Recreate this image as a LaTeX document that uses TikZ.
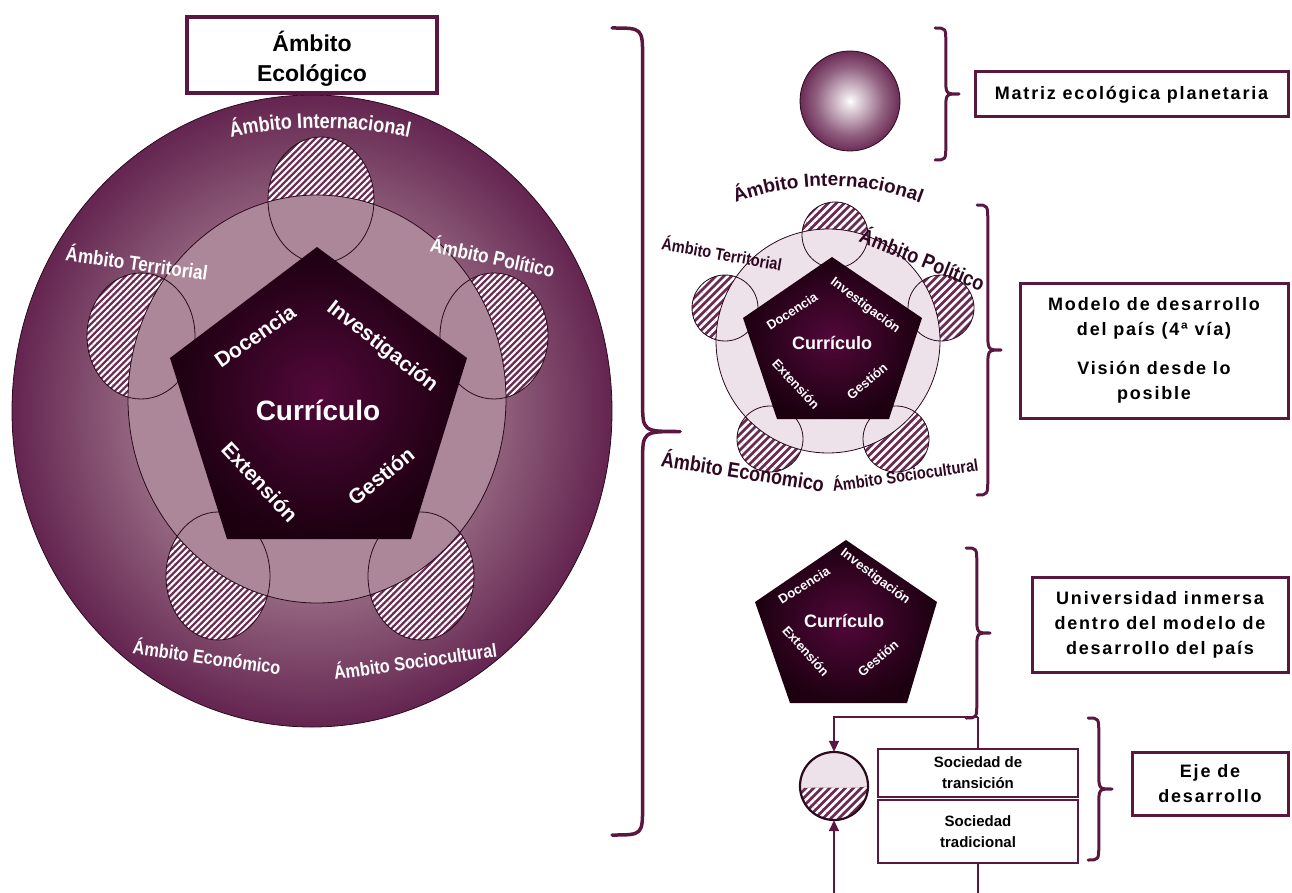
\documentclass[tikz,border=0pt]{standalone}
\usepackage{fontspec}
\setmainfont{Liberation Sans}
\newfontfamily\narrowsans[FakeStretch=0.86]{Liberation Sans}
\newfontfamily\trackedsans[LetterSpace=10]{Liberation Sans}
\usetikzlibrary{patterns.meta,decorations.text,arrows.meta}

\definecolor{wine}{HTML}{5A1840}
\definecolor{ringedge}{HTML}{642550}
\definecolor{ringmid}{HTML}{93657F}
\definecolor{ringcentre}{HTML}{A98099}
\definecolor{innerdisc}{HTML}{AC8699}
\definecolor{coreinner}{HTML}{52083A}
\definecolor{coreouter}{HTML}{1C0010}
\definecolor{hatchbase}{HTML}{6A2A52}
\definecolor{paledisc}{HTML}{EEE2EA}
\definecolor{labeldark}{HTML}{300822}
\definecolor{edgeline}{HTML}{2A0A1C}
\definecolor{globeedge}{HTML}{6C2C56}

% ring of the ecological sphere: light towards the middle, dark at the rim
\pgfdeclareradialshading{ringshade}{\pgfpoint{0bp}{0bp}}{%
  color(0bp)=(ringcentre); color(15bp)=(ringmid); color(25bp)=(ringedge); color(50bp)=(ringedge)}
% planetary globe
\pgfdeclareradialshading{globeshade}{\pgfpoint{0bp}{0bp}}{%
  color(0bp)=(white); color(3bp)=(white!85!globeedge); color(17bp)=(globeedge!75!white); color(25bp)=(globeedge); color(50bp)=(globeedge)}

% curly brace opening to the left, tip pointing right
% [#1 line width] #2 x of hook ends, #3 y top, #4 y bottom, #5 width, #6 hook length
\newcommand{\bracepath}[6][3pt]{%
  \draw[bracestroke, line width=#1] (#2,#3)
    .. controls ({#2+0.45*#5},#3) .. ({#2+0.45*#5},{#3-#6})
    -- ({#2+0.45*#5},{(#3+#4)/2+#6})
    .. controls ({#2+0.45*#5},{(#3+#4)/2}) .. ({#2+#5},{(#3+#4)/2})
    .. controls ({#2+0.45*#5},{(#3+#4)/2}) .. ({#2+0.45*#5},{(#3+#4)/2-#6})
    -- ({#2+0.45*#5},{#4+#6})
    .. controls ({#2+0.45*#5},#4) .. (#2,#4);}

\tikzset{
  bracestroke/.style={draw=wine, line cap=round, line join=round},
  hatched/.style={fill=hatchbase, postaction={pattern={Lines[angle=45,distance=4.6pt,line width=2.1pt]}, pattern color=white}},
  hatchedwide/.style={fill=hatchbase, postaction={pattern={Lines[angle=45,distance=5.6pt,line width=2.6pt]}, pattern color=white}},
  thinedge/.style={draw=edgeline, line width=0.8pt},
  corelabel/.style={text=white, inner sep=0, font=\bfseries\fontsize{21}{21}\selectfont},
  corelabelbig/.style={text=white, inner sep=0, font=\bfseries\fontsize{28}{28}\selectfont},
  smalllabel/.style={text=white, inner sep=0, font=\bfseries\fontsize{13}{13}\selectfont},
  smalllabelbig/.style={text=white, inner sep=0, font=\bfseries\fontsize{18}{18}\selectfont},
  ringlabel/.style={text=white, inner sep=0, font=\narrowsans\bfseries\fontsize{#1}{#1}\selectfont},
  darklabel/.style={text=labeldark, inner sep=0, font=\narrowsans\bfseries\fontsize{#1}{#1}\selectfont},
  titlebox/.style={draw=wine, line width=3.5pt, fill=white, inner sep=0},
  titletext/.style={align=center, inner sep=0, font=\bfseries\fontsize{23}{30}\selectfont},
  rbox/.style={draw=wine, line width=3pt, fill=white, align=center, inner sep=0,
    font=\trackedsans\bfseries\fontsize{18}{25}\selectfont},
  socbox/.style={draw=wine, line width=1.2pt, fill=white, align=center, inner sep=0,
    font=\bfseries\fontsize{15}{21}\selectfont},
  link/.style={draw=wine, line width=1.6pt},
  linkarrow/.style={link, -{Triangle[length=11pt,width=10pt]}},
}

\begin{document}
\begin{tikzpicture}[x=1pt,y=1pt]
\useasboundingbox (0,0) rectangle (1292,-893);

% ---------- large scheme: ecological sphere ----------
\shade[shading=ringshade] (312,-411) ellipse [x radius=300, y radius=316];
\draw[thinedge] (312,-411) ellipse [x radius=300, y radius=316];

% hatched fields of the five spheres
\foreach \cx/\cy/\rx/\ry in {321/-200/53/63, 141/-336/54/63, 494/-336/54/63, 218/-576/52/64, 421/-576/53/64}
  \fill[hatched] (\cx,\cy) ellipse [x radius=\rx, y radius=\ry];

% national sphere
\fill[innerdisc] (317,-399) ellipse [x radius=189, y radius=204];
\draw[thinedge] (317,-399) ellipse [x radius=189, y radius=204];
\foreach \cx/\cy/\rx/\ry in {321/-200/53/63, 141/-336/54/63, 494/-336/54/63, 218/-576/52/64, 421/-576/53/64}
  \draw[thinedge] (\cx,\cy) ellipse [x radius=\rx, y radius=\ry];

% university core
\shade[inner color=coreinner, outer color=coreouter] (317,-247) -- (467,-358) -- (411,-539) -- (227,-539) -- (170,-358) -- cycle;
\node[corelabel, rotate=35] (docA) at (255,-336) {Docencia};
\node[corelabel, rotate=-38] (invA) at (382,-347) {Investigación};
\node[corelabelbig] (curA) at (318,-410) {Currículo};
\node[corelabel, rotate=-47] (extA) at (260,-482) {Extensión};
\node[corelabel, rotate=39] (gesA) at (381,-476) {Gestión};

% sphere names
\path[decorate, decoration={text along path, text align=center, text color=white,
  text={|\narrowsans\bfseries\fontsize{21}{21}\selectfont|Ámbito Internacional}}]
  (110,-184.3) arc[start angle=120, end angle=60, radius=420];
\node[ringlabel=20, rotate=-8] (terA) at (137,-262) {Ámbito Territorial};
\node[ringlabel=20, rotate=-12] (polA) at (493,-256) {Ámbito Político};
\node[ringlabel=19, rotate=-8] (ecoA) at (207,-656) {Ámbito Económico};
\node[ringlabel=19, rotate=8] (socA) at (415,-660) {Ámbito Sociocultural};

\node[titlebox, minimum width=250, minimum height=76] (ecol) at (312,-55) {};
\node[titletext] (ecoltext) at (312,-59) {Ámbito\\Ecológico};

% ---------- right column ----------
\bracepath[3.5pt]{612}{-28}{-835}{68}{30}

% planetary matrix
\shade[shading=globeshade] (850,-101) circle (50);
\draw[thinedge] (850,-101) circle (50);
\bracepath{935}{-28}{-160}{24}{15}
\node[rbox, minimum width=313, minimum height=45] (matriz) at (1131.5,-94.5) {Matriz ecológica planetaria};

% country model
\foreach \cx/\cy in {835/-235, 725/-308, 941/-308, 770/-439, 896/-439}
  \fill[hatchedwide] (\cx,\cy) circle (33);
\fill[paledisc] (828,-341) circle (112);
\draw[thinedge] (828,-341) circle (112);
\foreach \cx/\cy in {835/-235, 725/-308, 941/-308, 770/-439, 896/-439}
  \draw[thinedge] (\cx,\cy) circle (33);
\shade[inner color=coreinner, outer color=coreouter] (832,-257) -- (922,-318) -- (889,-419) -- (777,-419) -- (743,-318) -- cycle;
\node[smalllabel, rotate=33] (docB) at (792,-311) {Docencia};
\node[smalllabel, rotate=-37] (invB) at (865,-306) {Investigación};
\node[smalllabelbig] (curB) at (832,-343) {Currículo};
\node[smalllabel, rotate=-47] (extB) at (796,-384) {Extensión};
\node[smalllabel, rotate=40] (gesB) at (867,-381) {Gestión};

\path[decorate, decoration={text along path, text align=center, text color=labeldark,
  text={|\bfseries\fontsize{19}{19}\selectfont|Ámbito Internacional}}]
  (660.9,-246.8) arc[start angle=130, end angle=50, radius=260];
\node[darklabel=17, rotate=-10] (terB) at (722,-253) {Ámbito Territorial};
\node[darklabel=21, rotate=-22] (polB) at (923,-258) {Ámbito Político};
\node[darklabel=21, rotate=-9] (ecoB) at (743,-470) {Ámbito Económico};
\node[darklabel=17, rotate=8] (socB) at (905,-474) {Ámbito Sociocultural};

\bracepath{977}{-205}{-495}{24}{18}
\node[rbox, minimum width=268, minimum height=135] (modelo) at (1154,-350.5)
  {Modelo de desarrollo\\del país (4ª vía)\\[14pt]Visión desde lo\\posible};

% university alone
\shade[inner color=coreinner, outer color=coreouter] (846,-540) -- (937,-602) -- (907,-703) -- (790,-703) -- (755,-602) -- cycle;
\node[smalllabel, rotate=32] (docC) at (804,-585) {Docencia};
\node[smalllabel, rotate=-37] (invC) at (875,-577) {Investigación};
\node[smalllabelbig] (curC) at (844,-621) {Currículo};
\node[smalllabel, rotate=-48] (extC) at (806,-651) {Extensión};
\node[smalllabel, rotate=40] (gesC) at (878,-658) {Gestión};

\bracepath{966}{-548}{-718}{24}{16}
\node[rbox, minimum width=256, minimum height=95] (univ) at (1160,-624.5)
  {Universidad inmersa\\dentro del modelo de\\desarrollo del país};

% development axis
\node[circle, minimum size=68, inner sep=0] (ball) at (834,-786) {};
\begin{scope}
  \clip (834,-786) circle (34);
  \fill[paledisc] (790,-742) rectangle (880,-830);
  \fill[hatchedwide] (790,-790) .. controls (815,-784) and (850,-792) .. (880,-784) -- (880,-830) -- (790,-830) -- cycle;
\end{scope}
\draw[draw=edgeline, line width=2.2pt] (834,-786) circle (34);

\node[socbox, minimum width=200, minimum height=48] (trans) at (978,-773) {Sociedad de\\transición};
\node[socbox, minimum width=200, minimum height=63] (trad) at (978,-831.5) {Sociedad\\tradicional};

\coordinate (joinR) at (978,-717);
\coordinate (joinL) at (834,-717);
\coordinate (footL) at (834,-893);
\coordinate (footR) at (978,-893);
\draw[linkarrow] (joinR) -- (joinL) -- (ball.north);
\draw[link] (joinR) -- (trans.north);
\draw[linkarrow] (footL) -- (ball.south);
\draw[link] (trad.south) -- (footR);

\bracepath{1088}{-718}{-860}{24}{16}
\node[rbox, minimum width=156, minimum height=63] (eje) at (1210,-783.5) {Eje de\\desarrollo};

\end{tikzpicture}
\end{document}
